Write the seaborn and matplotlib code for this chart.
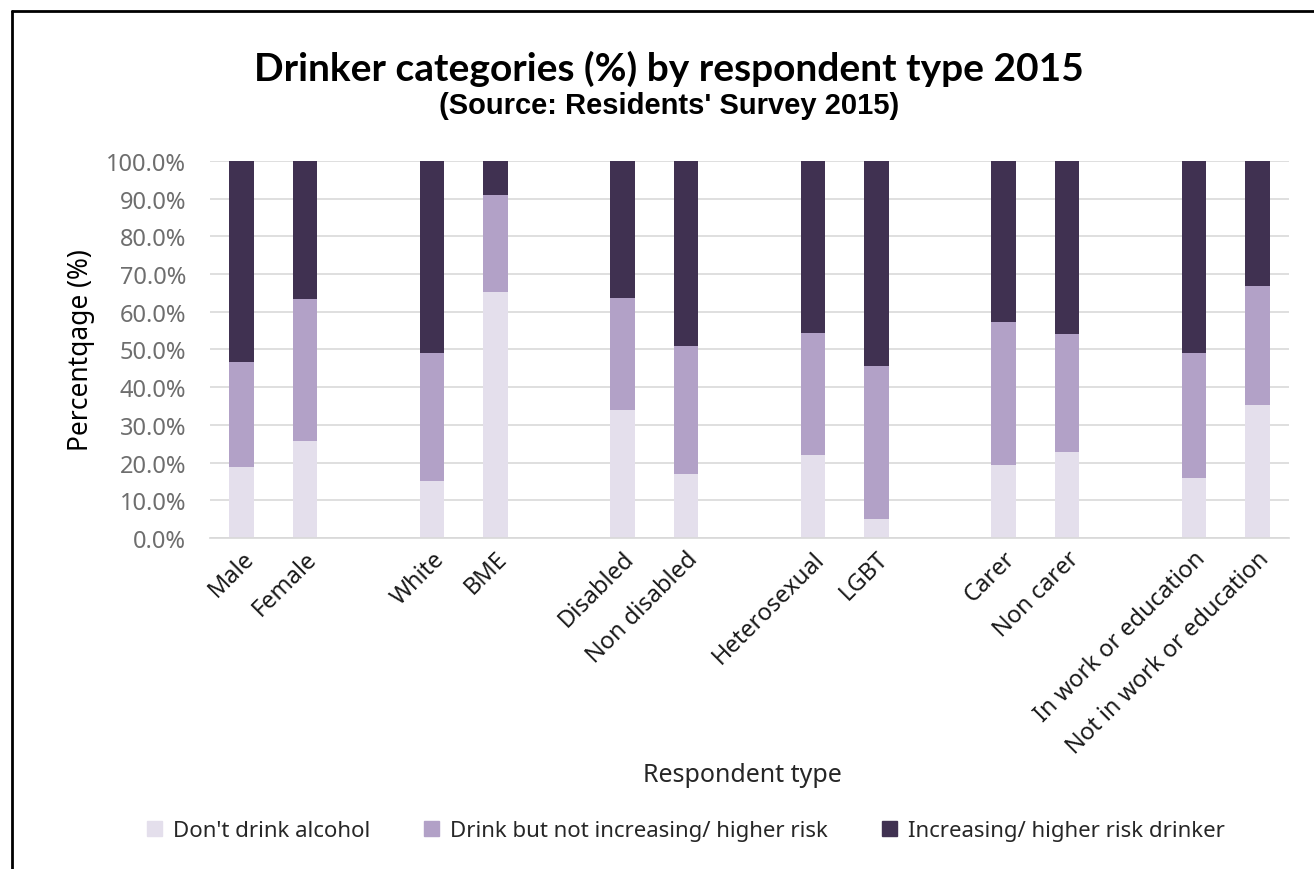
import pandas as pd
import matplotlib
matplotlib.use("Agg")
import matplotlib.pyplot as plt
from matplotlib.lines import Line2D
from matplotlib.ticker import PercentFormatter
import seaborn as sns

# Data (percent of respondents)
groups = [
    ["Male", "Female"],
    ["White", "BME"],
    ["Disabled", "Non disabled"],
    ["Heterosexual", "LGBT"],
    ["Carer", "Non carer"],
    ["In work or education", "Not in work or education"],
]
dont_drink = [18.9, 25.8, 15.1, 65.2, 34.0, 17.0, 22.1, 5.1, 19.3, 22.8, 15.8, 35.2]
not_increasing = [27.8, 37.5, 33.9, 25.9, 29.7, 34.0, 32.4, 40.4, 38.1, 31.2, 33.2, 31.6]
increasing = [53.3, 36.7, 51.0, 8.9, 36.3, 49.0, 45.5, 54.5, 42.6, 46.0, 51.0, 33.2]

series_names = ["Don't drink alcohol", "Drink but not increasing/ higher risk",
                "Increasing/ higher risk drinker"]
colors = ["#e4dfec", "#b2a1c7", "#403151"]

categories = [c for g in groups for c in g]
df = pd.DataFrame({
    "type": categories,
    "dont": dont_drink,
    "mid": not_increasing,
    "high": increasing,
})
df["c1"] = df["dont"]
df["c2"] = df["dont"] + df["mid"]
df["c3"] = df["c2"] + df["high"]

# category order with blank spacer slots between the pairs (as in the Excel original)
order = []
for i, g in enumerate(groups):
    order += g
    if i < len(groups) - 1:
        order.append(" " * (i + 1))

sns.set_theme(style="white")
plt.rcParams["font.family"] = ["Noto Sans", "DejaVu Sans"]

fig = plt.figure(figsize=(13.14, 8.7), dpi=100)
ax = fig.add_axes([0.1598, 0.3805, 0.8212, 0.4333])

# stacked bars drawn back to front using cumulative totals
for col, color in zip(["c3", "c2", "c1"], colors[::-1]):
    sns.barplot(data=df, x="type", y=col, order=order, color=color,
                width=0.385, saturation=1, linewidth=0, ax=ax, errorbar=None)

ax.set_ylim(0, 100)
ax.set_yticks(range(0, 101, 10))
ax.yaxis.set_major_formatter(PercentFormatter(decimals=1))
ax.grid(axis="y", color="#d9d9d9", linewidth=1.2)
ax.set_axisbelow(True)
for s in ["top", "right", "left"]:
    ax.spines[s].set_visible(False)
ax.spines["bottom"].set_color("#d9d9d9")
ax.tick_params(axis="y", labelsize=17, colors="#6e6e6e", length=0, pad=17)
ax.tick_params(axis="x", labelsize=17, colors="#1a1a1a", length=0, pad=6)
plt.setp(ax.get_xticklabels(), rotation=45, ha="right", rotation_mode="anchor")
ax.set_xlabel("")
ax.set_ylabel("")

fig.text(0.062, 0.598, "Percentqage (%)", rotation=90, ha="center", va="center",
         fontsize=19, color="black")
fig.text(0.565, 0.109, "Respondent type", ha="center", va="center",
         fontsize=18, color="#262626")

fig.text(0.509, 0.921, "Drinker categories (%) by respondent type 2015",
         ha="center", va="center", fontsize=28, fontweight="bold", color="black",
         family=["Lato", "DejaVu Sans"])
fig.text(0.509, 0.878, "(Source: Residents' Survey 2015)", ha="center", va="center",
         fontsize=21, fontweight="bold", color="black",
         family=["Liberation Sans", "DejaVu Sans"])

handles = [plt.Rectangle((0, 0), 1, 1, color=c) for c in colors]
fig.legend(handles, series_names, loc="center", bbox_to_anchor=(0.522, 0.044),
           ncol=3, frameon=False, fontsize=16, handlelength=0.7, handleheight=0.7,
           columnspacing=2.4, handletextpad=0.5, labelcolor="#262626")

# chart frame (top and left edges visible in the reference)
fig.add_artist(Line2D([0.0095, 1.0], [0.986, 0.986], color="black", linewidth=2,
                      transform=fig.transFigure))
fig.add_artist(Line2D([0.0095, 0.0095], [0.0, 0.986], color="black", linewidth=2,
                      transform=fig.transFigure))

fig.savefig("out.png", dpi=100)
